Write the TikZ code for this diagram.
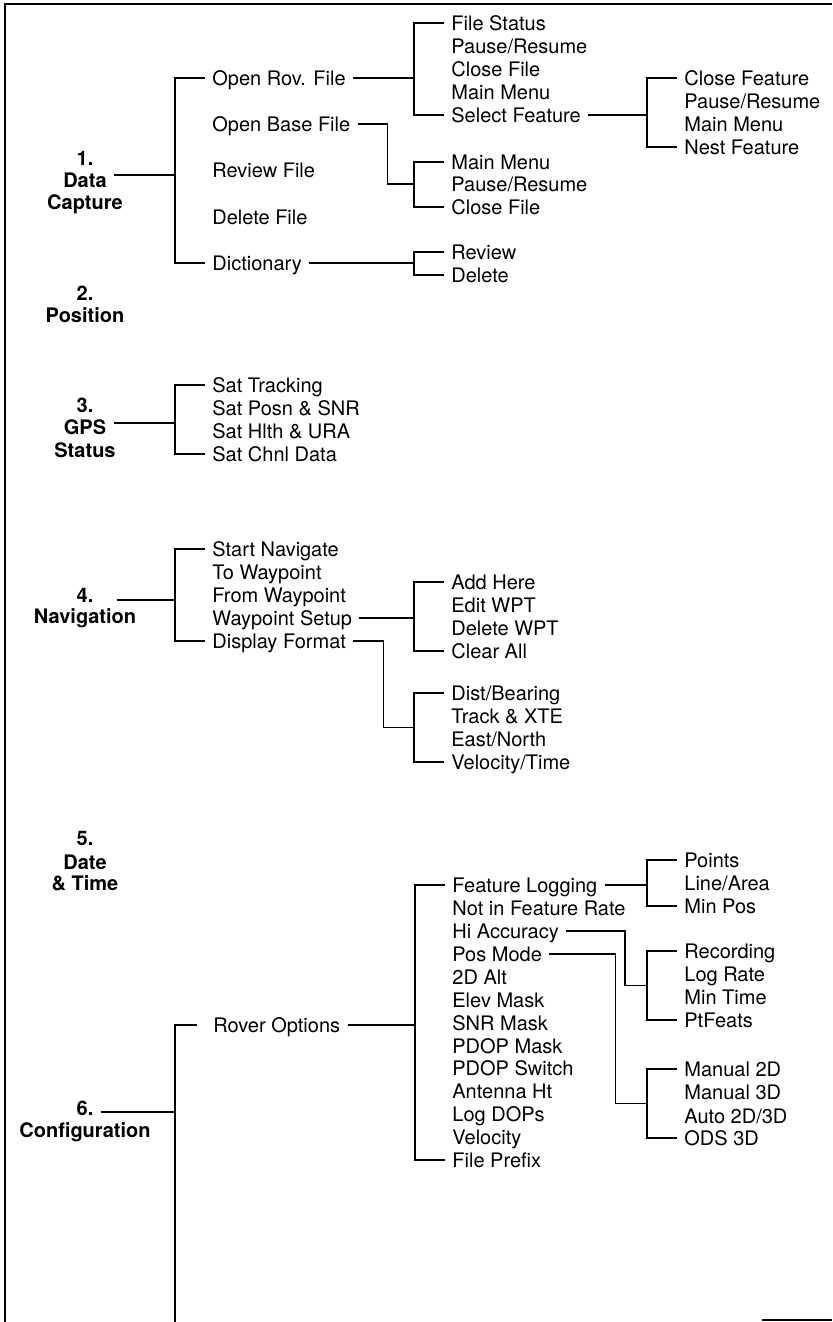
\documentclass[tikz,border=0pt]{standalone}
\usepackage{fontspec}
\setmainfont{TeX Gyre Heros}
\usepackage{tikz}
\tikzset{
  every picture/.style={line join=miter, line cap=butt},
  item/.style={anchor=west, font=\fontsize{10}{11.5}\selectfont, inner xsep=3.5pt, inner ysep=0pt, text height=7.2pt, text depth=0pt},
  head/.style={font=\fontsize{10}{11}\selectfont\bfseries, inner xsep=3.5pt, inner ysep=0pt, text height=7.2pt, text depth=0pt},
  link/.style={line width=0.8pt},
  frame/.style={line width=1.4pt},
}

\begin{document}
\begin{tikzpicture}[x=0.5pt,y=-0.5pt]
\useasboundingbox (0,0) rectangle (832,1322);
\draw[frame] (832,4) -- (5,4) -- (5,1322);
\draw[link] (762,1320) -- (832,1320);

% 1. Data Capture
\node[head] (h1a) at (85,158) {1.};
\node[head] (h1b) at (85,180) {Data};
\node[head] (h1c) at (85,202) {Capture};
\node[item] (orf) at (205,78) {Open Rov. File};
\node[item] (obf) at (205,124) {Open Base File};
\node[item] (rvf) at (205,170) {Review File};
\node[item] (dlf) at (205,217) {Delete File};
\node[item] (dic) at (205,263) {Dictionary};
\draw[link] (orf.west) -- ++(-15pt,0) coordinate (b1) |- (dic.west);
\draw[link] (h1b.east) ++(0,2.5pt) coordinate (h1o) -- (h1o -| b1);

\node[item] (fst) at (444,23) {File Status};
\node[item] (pr1) at (444,46) {Pause/Resume};
\node[item] (cf1) at (444,69) {Close File};
\node[item] (mm1) at (444,92) {Main Menu};
\node[item] (sfe) at (444,115) {Select Feature};
\draw[link] (fst.west) -- ++(-15pt,0) coordinate (b2) |- (sfe.west);
\draw[link] (orf.east) -- (orf.east -| b2);

\node[item] (cfe) at (677,78) {Close Feature};
\node[item] (pr3) at (677,101) {Pause/Resume};
\node[item] (mm3) at (677,124) {Main Menu};
\node[item] (nfe) at (677,147) {Nest Feature};
\draw[link] (cfe.west) -- ++(-15pt,0) coordinate (b3) |- (nfe.west);
\draw[link] (sfe.east) -- (sfe.east -| b3);

\node[item] (mm2) at (444,162) {Main Menu};
\node[item] (pr2) at (444,184) {Pause/Resume};
\node[item] (cf2) at (444,207) {Close File};
\draw[link] (mm2.west) -- ++(-15pt,0) coordinate (b4) |- (cf2.west);
\draw[link] (obf.east) -- ++(15pt,0) |- (pr2.west -| b4);

\node[item] (rev) at (444,252) {Review};
\node[item] (del) at (444,275) {Delete};
\draw[link] (rev.west) -- ++(-15pt,0) coordinate (b5) |- (del.west);
\draw[link] (dic.east) -- (dic.east -| b5);

% 2. Position
\node[head] (h2a) at (85,293) {2.};
\node[head] (h2b) at (85,315) {Position};

% 3. GPS Status
\node[head] (h3a) at (85,405) {3.};
\node[head] (h3b) at (85,427) {GPS};
\node[head] (h3c) at (85,450) {Status};
\node[item] (str) at (205,385) {Sat Tracking};
\node[item] (spn) at (205,408) {Sat Posn \& SNR};
\node[item] (shu) at (205,431) {Sat Hlth \& URA};
\node[item] (scd) at (205,454) {Sat Chnl Data};
\draw[link] (str.west) -- ++(-15pt,0) coordinate (b6) |- (scd.west);
\draw[link] (h3b.east) ++(0,2pt) coordinate (h3o) -- (h3o -| b6);

% 4. Navigation
\node[head] (h4a) at (85,595) {4.};
\node[head] (h4b) at (85,616) {Navigation};
\node[item] (snv) at (205,549) {Start Navigate};
\node[item] (twp) at (205,572) {To Waypoint};
\node[item] (fwp) at (205,595) {From Waypoint};
\node[item] (wps) at (205,618) {Waypoint Setup};
\node[item] (dfm) at (205,641) {Display Format};
\draw[link] (snv.west) -- ++(-15pt,0) coordinate (b7) |- (dfm.west);
\draw[link] (h4a.east) ++(8pt,-2.5pt) coordinate (h4o) -- (h4o -| b7);

\node[item] (adh) at (444,582) {Add Here};
\node[item] (ewp) at (444,605) {Edit WPT};
\node[item] (dwp) at (444,628) {Delete WPT};
\node[item] (cla) at (444,651) {Clear All};
\draw[link] (adh.west) -- ++(-15pt,0) coordinate (b8) |- (cla.west);
\draw[link] (wps.east) -- (wps.east -| b8);

\node[item] (dbr) at (444,693) {Dist/Bearing};
\node[item] (txt) at (444,716) {Track \& XTE};
\node[item] (ean) at (444,739) {East/North};
\node[item] (vti) at (444,762) {Velocity/Time};
\draw[link] (dbr.west) -- ++(-15pt,0) coordinate (b9) -- coordinate (b9m) (b9 |- vti.west) -- (vti.west);
\draw[link] (dfm.east) -- ++(15pt,0) |- (b9m);

% 5. Date & Time
\node[head] (h5a) at (85,838) {5.};
\node[head] (h5b) at (85,862) {Date};
\node[head] (h5c) at (85,883) {\& Time};

% 6. Configuration
\node[head] (h6a) at (85,1108) {6.};
\node[head] (h6b) at (85,1130) {Configuration};
\node[item] (rov) at (206,1025) {Rover Options};
\coordinate (cfgend) at (174,1322);
\draw[link] ([xshift=-4.5pt]rov.west) -- ++(-11pt,0) coordinate (b10) -- (b10 |- cfgend);
\draw[link] (h6a.east) ++(0,-2pt) coordinate (h6o) -- (h6o -| b10);

\node[item] (flg) at (445,885) {Feature Logging};
\node[item] (nfr) at (445,908) {Not in Feature Rate};
\node[item] (hia) at (445,931) {Hi Accuracy};
\node[item] (pmo) at (445,954) {Pos Mode};
\node[item] (alt) at (445,977) {2D Alt};
\node[item] (elm) at (445,1000) {Elev Mask};
\node[item] (snm) at (445,1023) {SNR Mask};
\node[item] (pdm) at (445,1046) {PDOP Mask};
\node[item] (pds) at (445,1068) {PDOP Switch};
\node[item] (aht) at (445,1091) {Antenna Ht};
\node[item] (ldo) at (445,1114) {Log DOPs};
\node[item] (vel) at (445,1137) {Velocity};
\node[item] (fpr) at (445,1160) {File Prefix};
\draw[link] (flg.west) -- ++(-15pt,0) coordinate (b11) |- (fpr.west);
\draw[link] (rov.east) -- (rov.east -| b11);

\node[item] (pts) at (677,860) {Points};
\node[item] (lar) at (677,883) {Line/Area};
\node[item] (mps) at (677,906) {Min Pos};
\draw[link] (pts.west) -- ++(-15pt,0) coordinate (b12) |- (mps.west);
\draw[link] (flg.east) -- (flg.east -| b12);

\node[item] (rec) at (677,951) {Recording};
\node[item] (lra) at (677,974) {Log Rate};
\node[item] (mti) at (677,997) {Min Time};
\node[item] (ptf) at (677,1020) {PtFeats};
\draw[link] (rec.west) -- ++(-15pt,0) coordinate (b13) -- coordinate (b13m) (b13 |- ptf.west) -- (ptf.west);
\draw[link] (hia.east) -- ++(29.5pt,0) |- (b13m);

\node[item] (m2d) at (677,1069) {Manual 2D};
\node[item] (m3d) at (677,1092) {Manual 3D};
\node[item] (a23) at (677,1116) {Auto 2D/3D};
\node[item] (o3d) at (677,1138) {ODS 3D};
\draw[link] (m2d.west) -- ++(-15pt,0) coordinate (b14) -- coordinate (b14m) (b14 |- o3d.west) -- (o3d.west);
\draw[link] (pmo.east) -- ++(33pt,0) |- (b14m);
\end{tikzpicture}
\end{document}
